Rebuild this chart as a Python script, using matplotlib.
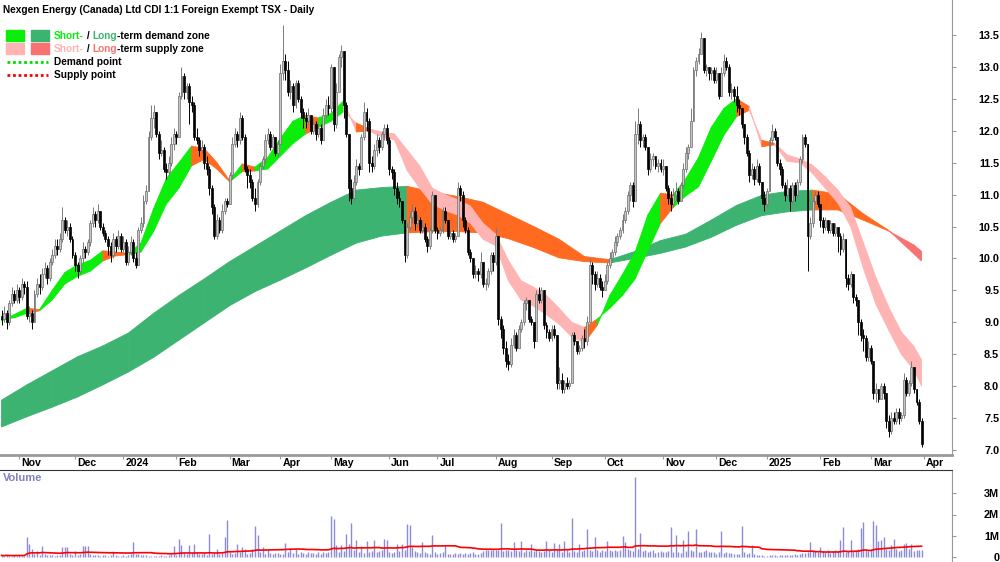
import matplotlib

matplotlib.use("Agg")
import matplotlib.pyplot as plt
import numpy as np
import pandas as pd
from matplotlib.patches import Rectangle
from matplotlib.lines import Line2D
from matplotlib.transforms import blended_transform_factory, offset_copy

plt.rcParams["font.family"] = ["Liberation Sans", "DejaVu Sans"]
plt.rcParams["font.weight"] = "bold"

W, H = 1000, 562

TITLE = "Nexgen Energy (Canada) Ltd CDI 1:1 Foreign Exempt TSX - Daily"
START, END = "2023-10-23", "2025-03-31"
ASX_HOLIDAYS = [
    "2023-12-25", "2023-12-26", "2024-01-01", "2024-01-26", "2024-03-29", "2024-04-01",
    "2024-04-25", "2024-06-10", "2024-12-25", "2024-12-26", "2025-01-01", "2025-01-27",
]
FIRST_OPEN = 9.1

closes = [
    9.05, 9.15, 9.0, 9.3, 9.45, 9.35, 9.5, 9.4, 9.6, 9.55,
    9.1, 9.15, 9.0, 9.45, 9.6, 9.55, 9.75, 9.85, 9.7, 9.95,
    10.05, 10.2, 10.15, 10.3, 10.6, 10.45, 10.5, 10.3, 10.05, 9.9,
    9.8, 10.0, 10.15, 10.1, 10.25, 10.55, 10.7, 10.6, 10.75, 10.5,
    10.4, 10.3, 10.2, 10.05, 10.3, 10.2, 10.35, 10.15, 10.25, 9.95,
    10.1, 10.25, 10.0, 9.9, 10.45, 10.55, 10.9, 11.05, 11.9, 12.2,
    12.3, 11.95, 11.65, 11.7, 11.4, 11.35, 11.5, 11.8, 11.95, 11.9,
    12.55, 12.85, 12.6, 12.7, 12.45, 12.4, 11.9, 11.85, 11.7, 11.75,
    11.5, 11.4, 11.1, 10.8, 10.35, 10.6, 10.45, 10.75, 10.9, 10.85,
    11.3, 11.8, 11.95, 11.85, 12.2, 11.9, 11.4, 11.3, 11.2, 10.95,
    10.85, 11.2, 11.45, 11.55, 11.85, 11.95, 11.75, 11.9, 11.65, 11.8,
    12.9, 13.1, 12.95, 12.6, 12.7, 12.4, 12.75, 12.5, 12.3, 12.2,
    12.15, 12.25, 12.0, 12.1, 11.95, 12.05, 11.85, 12.25, 12.4, 12.35,
    13.0, 12.1, 12.6, 13.15, 13.25, 12.4, 11.95, 11.1, 10.95, 11.2,
    11.45, 11.4, 11.9, 12.3, 12.15, 11.5, 11.45, 11.7, 11.85, 11.75,
    11.95, 12.05, 11.85, 11.4, 11.35, 11.1, 10.95, 10.9, 10.6, 10.05,
    10.5, 10.65, 10.75, 10.55, 10.6, 10.45, 10.5, 10.3, 10.2, 10.45,
    11.0, 10.45, 10.4, 10.45, 10.75, 10.6, 10.35, 10.4, 10.3, 10.35,
    11.1, 11.0, 10.6, 10.45, 10.1, 10.0, 9.75, 9.8, 9.75, 9.95,
    9.6, 9.6, 9.8, 10.05, 9.95, 10.35, 9.05, 8.9, 8.6, 8.4,
    8.35, 8.65, 8.8, 8.6, 8.9, 9.0, 9.3, 9.35, 9.05, 9.0,
    8.7, 9.45, 9.35, 9.5, 8.95, 8.85, 8.75, 8.9, 8.8, 8.05,
    8.1, 7.95, 8.05, 8.0, 8.05, 8.8, 8.7, 8.55, 8.6, 8.75,
    8.7, 9.0, 9.9, 9.75, 9.6, 9.7, 9.55, 9.5, 9.65, 9.9,
    10.0, 10.1, 10.25, 10.35, 10.45, 10.6, 10.75, 11.0, 11.15, 10.9,
    11.95, 12.1, 11.85, 11.9, 11.75, 11.4, 11.55, 11.6, 11.45, 11.5,
    11.4, 11.45, 11.1, 10.95, 10.85, 11.0, 11.05, 10.9, 11.15, 11.4,
    11.65, 11.75, 12.15, 12.95, 13.1, 13.2, 13.45, 12.95, 13.0, 12.9,
    12.95, 12.8, 12.9, 12.55, 12.9, 13.1, 13.0, 12.6, 12.65, 12.55,
    12.4, 12.35, 12.1, 11.9, 11.65, 11.3, 11.4, 11.25, 11.45, 11.2,
    10.95, 10.85, 11.05, 11.85, 12.0, 11.9, 11.5, 11.4, 11.15, 11.0,
    11.1, 10.9, 11.15, 11.0, 11.2, 11.55, 11.9, 11.8, 10.35, 10.55,
    10.9, 11.0, 10.85, 10.6, 10.5, 10.6, 10.45, 10.55, 10.4, 10.5,
    10.35, 10.15, 10.3, 9.7, 9.6, 9.75, 9.4, 9.35, 9.0, 8.8,
    8.75, 8.45, 8.6, 8.4, 7.9, 7.95, 7.8, 8.0, 7.9, 7.45,
    7.3, 7.5, 7.45, 7.6, 7.5, 7.55, 8.1, 7.9, 8.05, 8.3,
    7.95, 7.75, 7.45, 7.1,
]
highs = [
    9.2, 9.25, 9.2, 9.35, 9.55, 9.5, 9.6, 9.55, 9.7, 9.65,
    9.65, 9.25, 9.2, 9.5, 9.7, 9.75, 9.85, 9.95, 9.9, 10.0,
    10.15, 10.3, 10.3, 10.4, 10.8, 10.65, 10.6, 10.55, 10.35, 10.1,
    9.95, 10.05, 10.25, 10.2, 10.3, 10.6, 10.8, 10.75, 10.85, 10.7,
    10.55, 10.45, 10.35, 10.25, 10.4, 10.35, 10.45, 10.4, 10.35, 10.3,
    10.2, 10.35, 10.3, 10.1, 10.5, 10.65, 11.0, 11.15, 12.0, 12.4,
    12.4, 12.3, 12.0, 11.85, 11.75, 11.5, 11.6, 11.9, 12.05, 12.0,
    12.6, 13.0, 12.9, 12.75, 12.75, 12.55, 12.45, 12.05, 11.9, 11.85,
    11.8, 11.6, 11.45, 11.15, 10.85, 10.7, 10.65, 10.85, 10.95, 10.95,
    11.35, 11.9, 12.05, 12.0, 12.3, 12.25, 11.95, 11.45, 11.4, 11.25,
    11.1, 11.25, 11.5, 11.6, 11.95, 12.05, 12.0, 11.95, 11.9, 11.85,
    13.05, 13.65, 13.2, 13.1, 12.8, 12.75, 12.8, 12.8, 12.55, 12.35,
    12.3, 12.35, 12.25, 12.2, 12.15, 12.1, 12.1, 12.35, 12.5, 12.55,
    13.05, 12.95, 12.75, 13.2, 13.35, 13.0, 12.45, 11.6, 11.25, 11.3,
    11.55, 11.5, 11.95, 12.45, 12.35, 12.2, 11.6, 11.8, 11.95, 11.9,
    12.0, 12.1, 12.1, 11.9, 11.45, 11.4, 11.2, 11.05, 10.85, 10.3,
    10.55, 10.75, 10.85, 10.8, 10.7, 10.65, 10.6, 10.55, 10.35, 10.5,
    11.05, 11.0, 10.5, 10.5, 10.8, 10.8, 10.6, 10.45, 10.45, 10.4,
    11.2, 11.15, 11.05, 10.65, 10.5, 10.15, 10.0, 9.9, 9.85, 10.1,
    9.95, 9.7, 9.85, 10.1, 10.1, 10.5, 9.15, 9.1, 8.95, 8.7,
    8.5, 8.75, 8.9, 8.85, 8.95, 9.05, 9.35, 9.4, 9.3, 9.1,
    9.0, 9.5, 9.55, 9.55, 9.45, 9.0, 8.9, 8.95, 8.95, 8.4,
    8.3, 8.2, 8.1, 8.15, 8.1, 8.85, 8.85, 8.7, 8.65, 8.8,
    8.9, 9.1, 10.0, 9.95, 9.8, 9.8, 9.75, 9.65, 9.75, 9.95,
    10.1, 10.15, 10.35, 10.4, 10.5, 10.7, 10.8, 11.05, 11.2, 11.2,
    12.15, 12.35, 12.15, 11.95, 11.95, 11.75, 11.65, 11.65, 11.6, 11.55,
    11.55, 11.55, 11.45, 11.15, 11.05, 11.1, 11.2, 11.1, 11.2, 11.5,
    11.75, 11.8, 12.35, 13.0, 13.15, 13.3, 13.55, 13.4, 13.05, 13.0,
    13.0, 13.0, 13.0, 12.9, 13.0, 13.2, 13.15, 13.05, 12.75, 12.7,
    12.7, 12.5, 12.35, 12.1, 11.95, 11.7, 11.5, 11.45, 11.55, 11.5,
    11.2, 11.05, 11.1, 11.9, 12.1, 12.05, 11.9, 11.55, 11.45, 11.2,
    11.25, 11.15, 11.2, 11.2, 11.25, 11.6, 11.95, 11.95, 11.8, 10.65,
    10.95, 11.05, 11.05, 10.85, 10.65, 10.65, 10.6, 10.6, 10.55, 10.55,
    10.45, 10.4, 10.4, 9.8, 9.75, 9.8, 9.6, 9.45, 9.3, 9.05,
    8.9, 8.8, 8.7, 8.65, 8.05, 8.05, 7.95, 8.05, 8.05, 7.6,
    7.55, 7.6, 7.6, 7.65, 7.65, 7.6, 8.2, 8.15, 8.1, 8.4,
    8.3, 7.95, 7.8, 7.5,
]
lows = [
    8.95, 9.0, 8.9, 8.95, 9.25, 9.3, 9.3, 9.3, 9.35, 9.45,
    9.05, 9.0, 8.9, 9.0, 9.4, 9.45, 9.5, 9.7, 9.6, 9.65,
    9.9, 10.0, 10.05, 10.1, 10.25, 10.4, 10.35, 10.25, 10.0, 9.8,
    9.7, 9.75, 9.95, 10.0, 10.05, 10.2, 10.5, 10.5, 10.55, 10.45,
    10.35, 10.25, 10.05, 9.95, 10.0, 10.1, 10.15, 10.1, 10.1, 9.9,
    9.9, 10.05, 9.95, 9.85, 9.95, 10.4, 10.5, 10.85, 11.1, 11.85,
    12.05, 11.9, 11.55, 11.6, 11.35, 11.25, 11.3, 11.45, 11.7, 11.8,
    11.9, 12.5, 12.5, 12.5, 12.1, 12.3, 11.85, 11.8, 11.6, 11.65,
    11.4, 11.3, 11.0, 10.7, 10.3, 10.3, 10.4, 10.4, 10.7, 10.8,
    10.85, 11.25, 11.75, 11.75, 11.8, 11.85, 11.35, 11.1, 11.1, 10.9,
    10.75, 10.8, 11.15, 11.4, 11.5, 11.8, 11.7, 11.7, 11.6, 11.6,
    11.8, 12.8, 12.8, 12.55, 12.5, 12.3, 12.35, 12.45, 12.2, 12.05,
    12.05, 12.1, 11.95, 11.95, 11.85, 11.9, 11.8, 11.85, 12.2, 12.25,
    12.3, 12.0, 12.05, 12.6, 13.0, 12.2, 11.9, 10.9, 10.85, 10.9,
    11.15, 11.3, 11.4, 11.85, 12.0, 11.35, 11.35, 11.4, 11.6, 11.65,
    11.7, 11.85, 11.8, 11.3, 11.25, 11.0, 10.85, 10.8, 10.55, 9.95,
    10.0, 10.45, 10.55, 10.45, 10.5, 10.4, 10.4, 10.25, 10.1, 10.15,
    10.4, 10.4, 10.3, 10.35, 10.4, 10.55, 10.3, 10.3, 10.25, 10.25,
    10.35, 10.9, 10.5, 10.4, 10.05, 9.95, 9.7, 9.7, 9.65, 9.7,
    9.55, 9.5, 9.55, 9.75, 9.8, 9.9, 8.95, 8.75, 8.5, 8.3,
    8.25, 8.3, 8.6, 8.55, 8.6, 8.85, 8.95, 9.2, 9.0, 8.95,
    8.6, 8.7, 9.3, 9.3, 8.9, 8.75, 8.7, 8.7, 8.75, 7.95,
    7.95, 7.9, 7.9, 7.95, 7.95, 8.05, 8.65, 8.5, 8.5, 8.55,
    8.6, 8.65, 9.0, 9.6, 9.5, 9.55, 9.5, 9.4, 9.5, 9.6,
    9.85, 9.95, 10.05, 10.2, 10.3, 10.4, 10.55, 10.7, 10.9, 10.8,
    10.9, 11.8, 11.75, 11.75, 11.7, 11.3, 11.35, 11.45, 11.4, 11.35,
    11.35, 11.3, 11.05, 10.85, 10.75, 10.8, 10.9, 10.85, 10.9, 11.1,
    11.35, 11.55, 11.75, 12.8, 12.85, 13.05, 13.2, 12.9, 12.85, 12.8,
    12.8, 12.75, 12.75, 12.5, 12.55, 12.85, 12.95, 12.55, 12.5, 12.45,
    12.3, 12.25, 12.05, 11.8, 11.6, 11.2, 11.25, 11.15, 11.2, 11.15,
    10.85, 10.75, 10.8, 11.05, 11.8, 11.85, 11.45, 11.3, 11.1, 10.9,
    10.95, 10.75, 10.85, 10.9, 10.95, 11.15, 11.5, 11.75, 9.8, 10.3,
    10.5, 10.85, 10.8, 10.5, 10.4, 10.45, 10.4, 10.4, 10.35, 10.35,
    10.1, 10.05, 10.1, 9.55, 9.5, 9.55, 9.3, 9.25, 8.8, 8.7,
    8.55, 8.4, 8.4, 8.35, 7.8, 7.75, 7.75, 7.8, 7.8, 7.35,
    7.2, 7.25, 7.4, 7.4, 7.4, 7.45, 7.5, 7.85, 7.85, 8.0,
    7.9, 7.7, 7.4, 7.05,
]
# daily volume, thousands of shares
volumes_k = [
    60, 40, 90, 30, 50, 70, 40, 80, 30, 50,
    920, 600, 350, 120, 270, 90, 500, 150, 80, 60,
    70, 40, 100, 60, 440, 440, 440, 120, 80, 270,
    60, 150, 500, 500, 500, 120, 90, 60, 80, 50,
    70, 60, 40, 90, 270, 60, 50, 30, 80, 40,
    90, 120, 680, 150, 110, 90, 60, 70, 40, 30,
    50, 40, 30, 60, 20, 40, 80, 120, 500, 90,
    840, 550, 160, 120, 550, 180, 580, 200, 150, 120,
    160, 90, 1070, 140, 180, 350, 120, 160, 920, 1740,
    200, 140, 180, 600, 220, 440, 380, 150, 180, 350,
    1450, 1020, 210, 440, 150, 320, 180, 120, 160, 190,
    130, 150, 630, 200, 410, 180, 350, 140, 220, 170,
    120, 230, 190, 160, 110, 240, 150, 200, 160, 210,
    1940, 1790, 540, 220, 540, 260, 1070, 600, 1600, 320,
    790, 210, 500, 180, 730, 240, 250, 800, 200, 280,
    310, 860, 800, 240, 170, 220, 600, 280, 580, 330,
    1560, 1480, 440, 260, 200, 180, 710, 230, 190, 150,
    1050, 220, 120, 160, 200, 540, 130, 140, 110, 190,
    140, 160, 120, 180, 130, 170, 200, 150, 130, 160,
    250, 300, 320, 320, 320, 320, 320, 1600, 260, 320,
    340, 280, 680, 300, 260, 730, 230, 300, 280, 600,
    260, 340, 270, 230, 290, 730, 330, 220, 650, 300,
    600, 230, 730, 310, 210, 1820, 260, 240, 600, 280,
    300, 1300, 330, 280, 950, 300, 240, 320, 280, 730,
    300, 290, 340, 280, 330, 980, 710, 360, 300, 270,
    3790, 380, 1140, 250, 300, 220, 280, 310, 180, 200,
    260, 230, 200, 260, 1390, 210, 1050, 240, 190, 790,
    260, 1230, 300, 290, 1290, 240, 210, 260, 330, 200,
    230, 200, 150, 220, 1230, 160, 210, 180, 160, 120,
    150, 110, 1450, 200, 130, 170, 550, 120, 100, 90,
    60, 40, 50, 70, 60, 90, 50, 80, 60, 70,
    90, 60, 100, 120, 80, 110, 160, 180, 220, 710,
    300, 250, 200, 470, 280, 220, 310, 190, 250, 300,
    260, 790, 1390, 230, 280, 790, 250, 300, 350, 1340,
    1660, 320, 280, 300, 1700, 1500, 730, 790, 920, 380,
    300, 550, 830, 350, 290, 320, 600, 650, 380, 600,
    280, 300, 320, 330,
]

# zone edges, every SHORT_STEP / LONG_STEP bars (+ last bar)
SHORT_STEP = 5
short_fast = [
    9.02, 9.12, 9.22, 9.20, 9.50, 9.78, 9.90, 9.97, 10.12, 10.10,
    10.08, 10.24, 10.78, 11.25, 11.50, 11.76, 11.72, 11.50, 11.22, 11.48,
    11.43, 11.58, 11.88, 12.15, 12.24, 12.20, 12.27, 12.47, 11.98, 12.00,
    11.90, 11.86, 11.38, 11.10, 10.85, 10.75, 10.68, 10.55, 10.30, 10.20,
    9.65, 9.35, 9.25, 9.12, 8.97, 8.77, 8.68, 8.95, 9.42, 9.75,
    10.10, 10.68, 11.02, 11.00, 11.25, 11.58, 12.05, 12.35, 12.50, 12.38,
    11.75, 11.78, 11.52, 11.50, 11.33, 11.10, 10.87, 10.50, 9.85, 9.28,
    8.88, 8.50, 8.25, 8.00,
]
short_slow = [
    9.05, 9.07, 9.14, 9.18, 9.35, 9.60, 9.72, 9.80, 9.96, 10.04,
    10.06, 10.10, 10.42, 10.85, 11.10, 11.45, 11.55, 11.40, 11.20, 11.36,
    11.37, 11.40, 11.60, 11.80, 11.95, 12.05, 12.15, 12.30, 12.12, 12.03,
    11.98, 11.95, 11.70, 11.45, 11.10, 11.00, 10.92, 10.82, 10.55, 10.38,
    9.97, 9.65, 9.55, 9.42, 9.22, 9.00, 8.92, 9.05, 9.22, 9.42,
    9.68, 10.12, 10.55, 10.80, 10.98, 11.12, 11.52, 11.93, 12.22, 12.32,
    11.85, 11.80, 11.62, 11.56, 11.46, 11.28, 11.07, 10.80, 10.25, 9.70,
    9.24, 8.85, 8.62, 8.41,
]
LONG_STEP = 10
long_fast = [
    7.78, 8.02, 8.24, 8.46, 8.63, 8.83, 9.14, 9.42, 9.68, 9.95,
    10.19, 10.43, 10.67, 10.88, 11.07, 11.11, 11.13, 11.04, 10.97, 10.88,
    10.69, 10.50, 10.30, 10.03, 9.98, 10.11, 10.28, 10.38, 10.60, 10.83,
    10.99, 11.05, 11.07, 11.01, 10.70, 10.44, 10.07, 9.96,
]
long_slow = [
    7.36, 7.52, 7.67, 7.83, 8.02, 8.22, 8.45, 8.72, 8.99, 9.26,
    9.48, 9.66, 9.85, 10.05, 10.24, 10.35, 10.40, 10.42, 10.42, 10.40,
    10.31, 10.17, 10.01, 9.95, 9.93, 10.00, 10.08, 10.18, 10.33, 10.52,
    10.67, 10.73, 10.76, 10.76, 10.60, 10.43, 10.21, 10.11,
]

price_ticks = [7.0, 7.5, 8.0, 8.5, 9.0, 9.5, 10.0, 10.5, 11.0, 11.5, 12.0, 12.5, 13.0, 13.5]
vol_ticks_m = [0, 1, 2, 3]
vol_tick_labels = ["0", "1M", "2M", "3M"]

C_SHORT_DEM = "#0aee0a"
C_LONG_DEM = "#3cb371"
C_SHORT_SUP = "#ffb4b4"
C_LONG_SUP = "#f87272"
C_MIXED = "#ff6a20"
C_VOL = "#8c8cd4"
C_AXIS = "#999999"
FS = 7.3


def draw_zone(ax, x, fast, slow, up_color, down_color):
    for k in range(len(x) - 1):
        above = fast[k + 1] > slow[k + 1]
        rising = fast[k + 1] > fast[k]
        if above and rising:
            c = up_color
        elif not above and not rising:
            c = down_color
        else:
            c = C_MIXED
        ax.fill([x[k], x[k + 1], x[k + 1], x[k]],
                [fast[k], fast[k + 1], slow[k + 1], slow[k]],
                color=c, lw=0.6, ec=c, zorder=1)


dates = pd.bdate_range(START, END, freq="C", holidays=ASX_HOLIDAYS)
n = len(closes)
idx = np.arange(n)
c = np.array(closes)
o = np.r_[FIRST_OPEN, c[:-1]]
hi = np.maximum(np.array(highs), np.maximum(o, c))
lo = np.minimum(np.array(lows), np.minimum(o, c))
up = c >= o

fig = plt.figure(figsize=(W / 100, H / 100), dpi=100)
ax = fig.add_axes([0, 1 - 455 / H, 952 / W, 455 / H])
vax = fig.add_axes([0, 0, 952 / W, 92 / H])
xlim = (-0.6, 375.0)

# zones
sx = list(range(0, n - 1, SHORT_STEP)) + [n - 1]
lx = list(range(0, n - 1, LONG_STEP)) + [n - 1]
draw_zone(ax, lx, long_fast, long_slow, C_LONG_DEM, C_LONG_SUP)
draw_zone(ax, sx, short_fast, short_slow, C_SHORT_DEM, C_SHORT_SUP)

# candles
ax.vlines(idx[up], lo[up], hi[up], color="#7a7a7a", lw=0.7, zorder=3)
ax.vlines(idx[~up], lo[~up], hi[~up], color="black", lw=0.7, zorder=3)
body_lo = np.minimum(o, c)
body_h = np.maximum(np.abs(c - o), 0.02)
ax.bar(idx[up], body_h[up], bottom=body_lo[up], width=0.75,
       facecolor="#c4c4c4", edgecolor="#6e6e6e", lw=0.5, zorder=4)
ax.bar(idx[~up], body_h[~up], bottom=body_lo[~up], width=0.75,
       facecolor="black", edgecolor="black", lw=0.5, zorder=4)

ax.set_xlim(*xlim)
ax.set_ylim(7 - 5 / 63.85, 7 + 450 / 63.85)
for s in ("top", "left"):
    ax.spines[s].set_visible(False)
ax.spines["right"].set_color(C_AXIS)
ax.spines["bottom"].set_color(C_AXIS)
ax.spines["bottom"].set_linewidth(2)
ax.yaxis.tick_right()
ax.set_yticks(price_ticks)
ax.set_yticklabels([f"{t:.1f}" for t in price_ticks])
ax.tick_params(axis="y", direction="out", length=3, color=C_AXIS, labelsize=7.8, pad=31)
for lab in ax.get_yticklabels():
    lab.set_horizontalalignment("right")

# month ticks
month_starts = [i for i in range(1, n) if dates[i].month != dates[i - 1].month]
ax.set_xticks(month_starts + [n])
ax.set_xticklabels([])
ax.tick_params(axis="x", direction="out", length=3, color=C_AXIS)
trans = offset_copy(blended_transform_factory(ax.transData, ax.transAxes),
                    fig=fig, x=2, y=-3, units="dots")
labels = [d.strftime("%Y") if d.month == 1 else d.strftime("%b") for d in dates[month_starts]] + ["Apr"]
for i, lab in zip(month_starts + [n], labels):
    ax.text(i, 0, lab, transform=trans, ha="left", va="top", fontsize=7.6, fontweight="bold")

# volume
vol_m = np.array(volumes_k) / 1000.0
vma = pd.Series(vol_m).rolling(50, min_periods=1).mean()
vax.vlines(idx, 0, vol_m, color=C_VOL, lw=1.0)
vax.plot(idx, vma, color="red", lw=1.2)
vax.set_xlim(*xlim)
vax.set_ylim((556.7 - 562) / 21.1, (556.7 - 470) / 21.1)
for s in ("left", "bottom"):
    vax.spines[s].set_visible(False)
vax.spines["top"].set_color("#333333")
vax.spines["top"].set_linewidth(0.8)
vax.spines["right"].set_color(C_AXIS)
vax.set_xticks([])
vax.yaxis.tick_right()
vax.set_yticks(vol_ticks_m)
vax.set_yticklabels(vol_tick_labels)
vax.tick_params(axis="y", direction="out", length=3, color=C_AXIS, labelsize=7.8, pad=31)
for lab in vax.get_yticklabels():
    lab.set_horizontalalignment("right")
fig.text(3 / W, 1 - 478 / H, "Volume", color="#8080c0", fontsize=8,
         fontweight="bold", ha="left", va="center")

# title and legend
fig.text(3 / W, 1 - 10 / H, TITLE, fontsize=FS, fontweight="bold", ha="left", va="center")

renderer = fig.canvas.get_renderer()


def colored_text(x_px, y_px, pieces):
    x = x_px
    for s, col in pieces:
        t = fig.text(x / W, 1 - y_px / H, s, color=col, fontsize=FS, fontweight="bold",
                     ha="left", va="center")
        x = t.get_window_extent(renderer).x1


rows = [
    (C_SHORT_DEM, C_LONG_DEM, "demand"),
    (C_SHORT_SUP, C_LONG_SUP, "supply"),
]
for r, (c1, c2, word) in enumerate(rows):
    y = 36 + 13 * r
    fig.add_artist(Rectangle((6 / W, 1 - (y + 5) / H), 18 / W, 11 / H, color=c1,
                             transform=fig.transFigure))
    fig.add_artist(Rectangle((31 / W, 1 - (y + 5) / H), 18 / W, 11 / H, color=c2,
                             transform=fig.transFigure))
    colored_text(54, y, [("Short-", c1), (" / ", "black"), ("Long", c2),
                         (f"-term {word} zone", "black")])

for r, (col, txt) in enumerate([("#00dd00", "Demand point"), ("red", "Supply point")]):
    y = 62 + 13 * r
    fig.add_artist(Line2D([7 / W, 48 / W], [1 - y / H, 1 - y / H], color=col, lw=2,
                          ls=(0, (1, 1)), transform=fig.transFigure))
    fig.text(54 / W, 1 - y / H, txt, fontsize=FS, fontweight="bold", ha="left", va="center")

fig.savefig("out.png", dpi=100)
plt.close(fig)
